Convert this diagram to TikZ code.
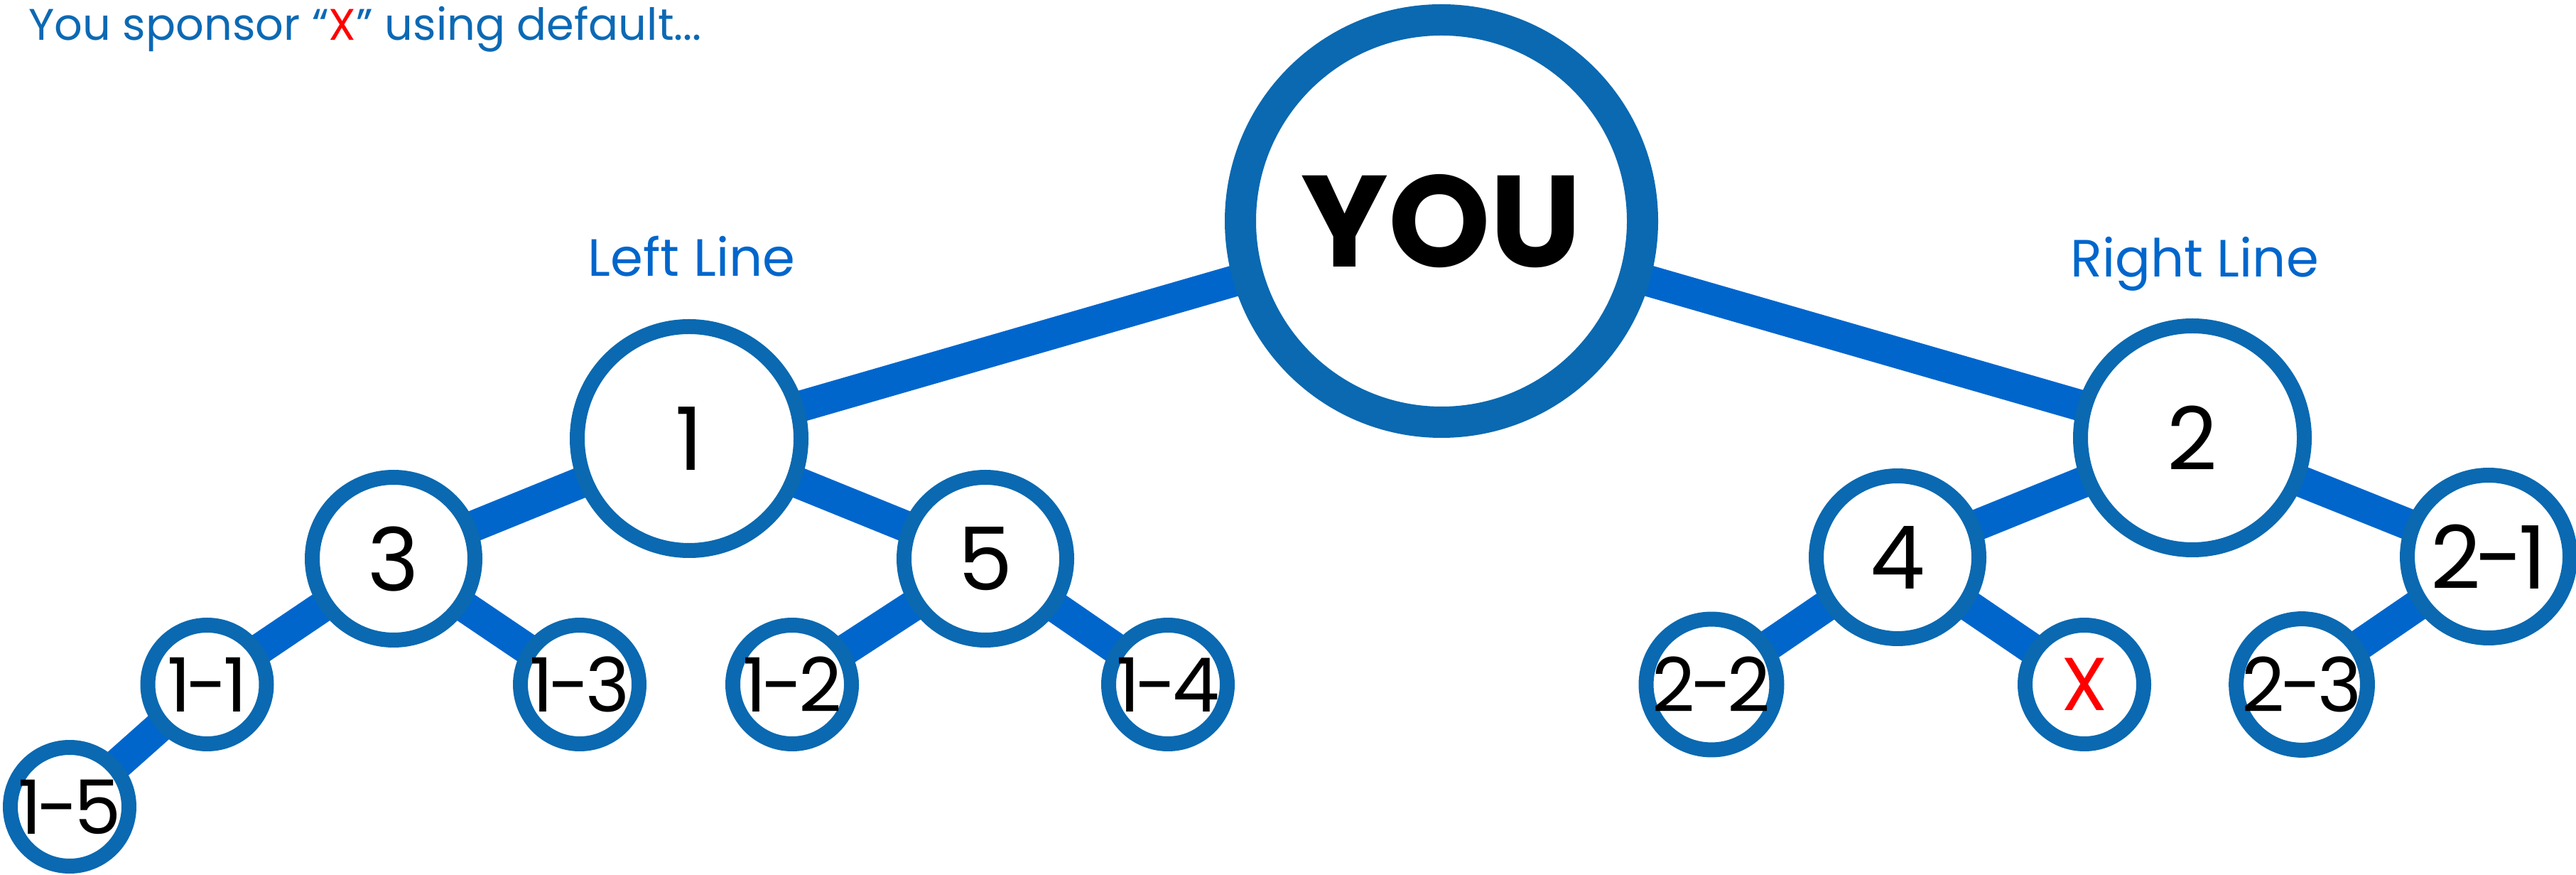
\documentclass[tikz,border=0pt]{standalone}
\usepackage{fontspec}
\setmainfont{Poppins}
\newfontfamily\labelfont[LetterSpace=-6]{Poppins}
\usetikzlibrary{backgrounds}

\definecolor{ringblue}{RGB}{10,105,177}
\definecolor{lineblue}{RGB}{0,102,204}
\definecolor{titleblue}{RGB}{12,105,180}

\tikzset{
  you/.style={circle, draw=ringblue, fill=white, line width=0.44cm, minimum size=5.66cm, inner sep=0pt, font=\fontsize{52}{56}\selectfont\bfseries},
  lead/.style={circle, draw=ringblue, fill=white, line width=0.21cm, minimum size=3.15cm, inner sep=0pt, font=\labelfont\fontsize{35}{40}\selectfont},
  mid/.style={lead, minimum size=2.29cm},
  leaf/.style={lead, minimum size=1.67cm, font=\labelfont\fontsize{30}{34}\selectfont},
  link/.style={lineblue, line width=0.44cm},
  sidelabel/.style={lineblue, anchor=base, font=\fontsize{21}{25}\selectfont}
}

\begin{document}
\begin{tikzpicture}
    \useasboundingbox (0,0) rectangle (36.26,-12.31);

    \node[anchor=base west, titleblue, font=\fontsize{17.7}{21}\selectfont] (title) at (0.28,-0.57) {You sponsor “\textcolor{red}{X}” using default...};
    \node[sidelabel] (leftline) at (9.735,-3.89) {Left Line};
    \node[sidelabel] (rightline) at (30.89,-3.90) {Right Line};

    % top of the tree
    \node[you] (you) at (20.29,-3.11) {YOU};
    \node[lead] (n1) at (9.70,-6.17) {1};
    \node[lead] (n2) at (30.86,-6.16) {2};

    % second row
    \node[mid] (n3) at (5.54,-7.86) {3};
    \node[mid] (n5) at (13.87,-7.86) {5};
    \node[mid] (n4) at (26.71,-7.84) {4};
    \node[mid] (n21) at (35.03,-7.83) {2-1};

    % leaves
    \node[leaf] (n11) at (2.915,-9.63) {1-1};
    \node[leaf] (n13) at (8.16,-9.63) {1-3};
    \node[leaf] (n12) at (11.15,-9.63) {1-2};
    \node[leaf] (n14) at (16.44,-9.63) {1-4};
    \node[leaf] (n15) at (0.98,-11.35) {1-5};
    \node[leaf] (n22) at (24.09,-9.63) {2-2};
    \node[leaf, text=red] (nx) at (29.34,-9.63) {X};
    \node[leaf] (n23) at (32.40,-9.63) {2-3};

    \begin{scope}[on background layer]
        \draw[link] (you.center) -- (n1.center);
        \draw[link] (you.center) -- (n2.center);
        \draw[link] (n1.center) -- (n3.center);
        \draw[link] (n1.center) -- (n5.center);
        \draw[link] (n3.center) -- (n11.center);
        \draw[link] (n3.center) -- (n13.center);
        \draw[link] (n11.center) -- (n15.center);
        \draw[link] (n5.center) -- (n12.center);
        \draw[link] (n5.center) -- (n14.center);
        \draw[link] (n2.center) -- (n4.center);
        \draw[link] (n2.center) -- (n21.center);
        \draw[link] (n4.center) -- (n22.center);
        \draw[link] (n4.center) -- (nx.center);
        \draw[link] (n21.center) -- (n23.center);
    \end{scope}
\end{tikzpicture}
\end{document}
